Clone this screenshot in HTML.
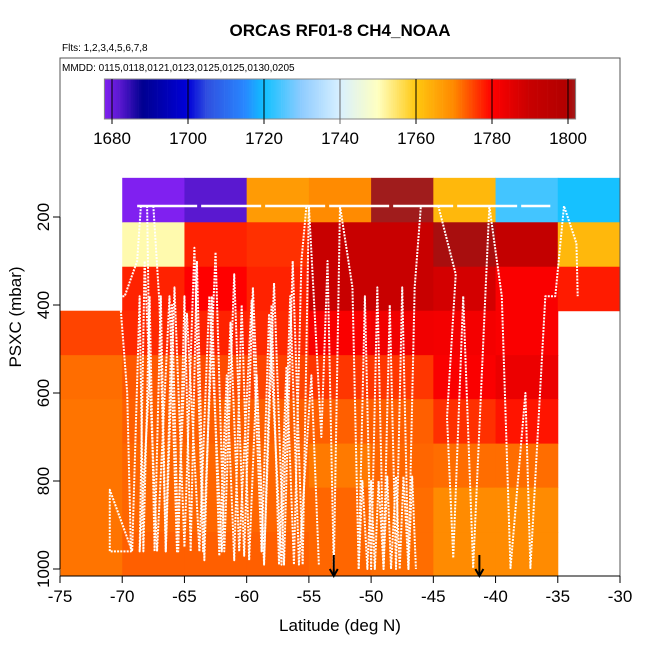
<!DOCTYPE html>
<html><head><meta charset="utf-8"><style>
body{margin:0;background:#fff}
svg text{font-family:"Liberation Sans",sans-serif}
</style></head><body>
<svg id="c" width="650" height="650" xmlns="http://www.w3.org/2000/svg"></svg>
<script>
const latEdges=[-75,-70,-65,-60,-55,-50,-45,-40,-35,-30];
const presEdges=[111,212,313,413,514,614,715,815,916,1016];
const ch4Grid=[
[null,1678,1682,1767,1769.5,1802,1762.5,1724,1720.5],
[null,1751,1777.5,1776.5,1790,1790,1801,1792,1762.5],
[null,1777.5,1780,1777.5,1790,1790,1788,1781,1778],
[1775,1777,1777.5,1777,1781,1782.5,1782,1781,null],
[1772,1773.5,1774.5,1775,1776,1776,1781,1783.5,null],
[1771.5,1773,1773,1773,1773,1773,1776.5,1778.5,null],
[1771.5,1772.5,1772.5,1772.5,1771,1772.5,1772,1772,null],
[1771.5,1772.5,1772.5,1772.5,1772.5,1772,1769.5,1769.5,null],
[1771.5,1773,1773,1773,1772.5,1772,1769.5,1769.5,null]];
const xTicks=[-75,-70,-65,-60,-55,-50,-45,-40,-35,-30];
const yTicks=[200,400,600,800,1000];
const cbTicks=[1680,1700,1720,1740,1760,1780,1800];
const arrowLats=[-53,-41.3];
const trackTopLat=[-68.8,-35.6];
const trackTopP=[175,175];
const track1Lat=[-68.5,-68.8,-69.8,-70.2,-69.6,-69.3,-71,-71,-69.2,-68.6,-68.3,-67.8,-67.4,-66.9,-66.5,-66,-65.5,-65,-64.5,-64,-63.4,-62.8,-62.2,-61.6,-61,-60.4,-59.8,-59.2,-58.6,-58,-57.4,-56.8,-56.2,-55.6,-55.2];
const track1P=[175,300,380,380,600,960,960,820,960,380,960,380,960,380,960,400,960,380,960,300,980,380,970,560,980,400,980,560,990,400,990,540,990,300,175];
const track2Lat=[-67.5,-67,-66.5,-65.8,-65,-64.2,-63.5,-62.5,-61.8,-61,-60.2,-59.5,-58.6,-57.8,-57,-56.3,-55.5,-55];
const track2P=[175,400,960,360,950,270,960,280,960,330,970,360,980,350,990,300,990,175];
const track5Lat=[-68,-67.8,-68.6,-68.2,-67.2,-66.2,-65.6,-64.8,-63.8,-63,-62,-61.3,-60.6,-59.6,-58.8,-58.2,-57.2,-56.5,-55.8,-54.8,-54.2];
const track5P=[175,560,960,300,960,380,960,420,960,380,960,440,960,390,960,420,990,380,990,560,990];
const track3Lat=[-55,-54,-53.5,-53,-52.5,-51.5,-51,-50.5,-50,-49.5,-49,-48.5,-48,-47.5,-47,-46.5,-46];
const track3P=[175,700,300,1000,175,360,1000,380,1000,360,1000,400,1000,360,1000,360,175];
const track6Lat=[-51,-50.7,-50.3,-50,-49.7,-49.4,-49,-48.7,-48.4,-48,-47.7,-47.4,-47,-46.7,-46.4];
const track6P=[1000,800,1000,800,1000,800,1000,790,1000,790,1000,790,1000,790,1000];
const track4Lat=[-44.6,-43.2,-43.9,-43.4,-42.6,-41.8,-40.5,-39.5,-38.8,-37.6,-37.2,-36,-35.2,-34.5,-33.5,-33.4];
const track4P=[175,330,655,975,380,998,175,380,998,600,998,380,380,175,260,380];
const pStops=[1678,1682,1688,1700,1705,1715,1720,1730,1740,1750,1760,1770,1780,1790,1800,1802];
const cStops=['#8020f0','#5a18d0','#000090','#0000d8','#3050e0','#2888ff','#10c0ff','#90ccff','#d8f0ff','#ffffc0','#ffc810','#ff8800','#ff0000','#c80000','#b00000','#a01c1c'];

const svg=document.getElementById('c');const NS='http://www.w3.org/2000/svg';
function mk(t,a,p){const e=document.createElementNS(NS,t);for(const k in a)e.setAttribute(k,a[k]);(p||svg).appendChild(e);return e;}
const X0=60,X1=620,Y0=58,Y1=576;
function xs(v){return X0+(v+75)/45*(X1-X0);}
function ys(p){return 217+(p-200)*0.44;}
function hex(h){return [1,3,5].map(i=>parseInt(h.substr(i,2),16));}
function col(v){v=Math.max(pStops[0],Math.min(pStops[pStops.length-1],v));
 for(let i=0;i<pStops.length-1;i++){if(v<=pStops[i+1]){const t=(v-pStops[i])/(pStops[i+1]-pStops[i]);const a=hex(cStops[i]),b=hex(cStops[i+1]);
 return 'rgb('+a.map((x,j)=>Math.round(x+(b[j]-x)*t)).join(',')+')';}}return cStops[cStops.length-1];}

let t=mk('text',{x:340,y:36,'text-anchor':'middle','font-size':17,'font-weight':'bold'});t.textContent='ORCAS RF01-8 CH4_NOAA';

t=mk('text',{x:62,y:51,'font-size':10});t.textContent='Flts: 1,2,3,4,5,6,7,8';

t=mk('text',{x:62,y:71,'font-size':10});t.textContent='MMDD: 0115,0118,0121,0123,0125,0125,0130,0205';


const hm=mk('g',{});
for(let r=0;r<ch4Grid.length;r++)for(let c=0;c<ch4Grid[r].length;c++){const v=ch4Grid[r][c];if(v==null)continue;
 const x=xs(latEdges[c]),y=ys(presEdges[r]);
 const e=mk('rect',{x:x,y:y,width:xs(latEdges[c+1])-x+0.5,height:ys(presEdges[r+1])-y+0.5,fill:col(v)},hm);
 }

const tr=mk('g',{fill:'none',stroke:'#fff'});
function poly(la,pr,dash,w,name){const e=mk('polyline',{points:la.map((v,i)=>xs(v)+','+ys(pr[i])).join(' '),'stroke-width':w,'stroke-dasharray':dash,'stroke-linejoin':'round'},tr);
 }
poly(trackTopLat,trackTopP,'60 4',2.5,'track-top');
poly(track1Lat,track1P,'2 1.2',2,'track-1');
poly(track2Lat,track2P,'2 1.2',2,'track-2');
poly(track5Lat,track5P,'2 1.2',2,'track-5');
poly(track3Lat,track3P,'2 1.2',2,'track-3');
poly(track6Lat,track6P,'2 1.2',2,'track-6');
poly(track4Lat,track4P,'2 1.2',2,'track-4');

arrowLats.forEach(a=>{const g=mk('g',{stroke:'#000','stroke-width':2,fill:'none'});
 
 const x=xs(a);mk('line',{x1:x,y1:555,x2:x,y2:576},g);mk('polyline',{points:(x-4)+',569 '+x+',576 '+(x+4)+',569'},g);});

const cb=mk('g',{});
const cbx=v=>112+(v-1680)*3.8;
for(let v=1678;v<1802;v+=0.5){mk('rect',{x:cbx(v),y:79,width:2.2,height:40,fill:col(v+0.25)},cb);}
mk('rect',{x:cbx(1678),y:79,width:cbx(1802)-cbx(1678),height:40,fill:'none',stroke:'#888'},cb);
cbTicks.forEach(v=>{mk('line',{x1:cbx(v),y1:79,x2:cbx(v),y2:124,stroke:v==1740?'#666':'#000','stroke-width':1},cb);
 const l=mk('text',{x:cbx(v),y:144,'text-anchor':'middle','font-size':17},cb);l.textContent=v;
 });

const bx=mk('rect',{x:X0,y:Y0,width:X1-X0,height:Y1-Y0,fill:'none',stroke:'#555','stroke-width':1});

const ax=mk('g',{});
xTicks.forEach(v=>{mk('line',{x1:xs(v),y1:Y1,x2:xs(v),y2:Y1+7,stroke:'#000'},ax);
 const l=mk('text',{x:xs(v),y:602,'text-anchor':'middle','font-size':17},ax);l.textContent=v;
 });
mk('line',{x1:X0,y1:Y1,x2:X1,y2:Y1,stroke:'#000'},ax);
const ay=mk('g',{});
yTicks.forEach(v=>{mk('line',{x1:X0-7,y1:ys(v),x2:X0,y2:ys(v),stroke:'#000'},ay);
 const l=mk('text',{x:0,y:0,'text-anchor':'middle','font-size':17,transform:'translate(49,'+ys(v)+') rotate(-90)'},ay);l.textContent=v;
 });
mk('line',{x1:X0,y1:ys(200),x2:X0,y2:ys(1000),stroke:'#000'},ay);
t=mk('text',{x:340,y:631,'text-anchor':'middle','font-size':17});t.textContent='Latitude (deg N)';

t=mk('text',{x:0,y:0,'text-anchor':'middle','font-size':17,transform:'translate(21,317) rotate(-90)'});t.textContent='PSXC (mbar)';

</script>
</body></html>
